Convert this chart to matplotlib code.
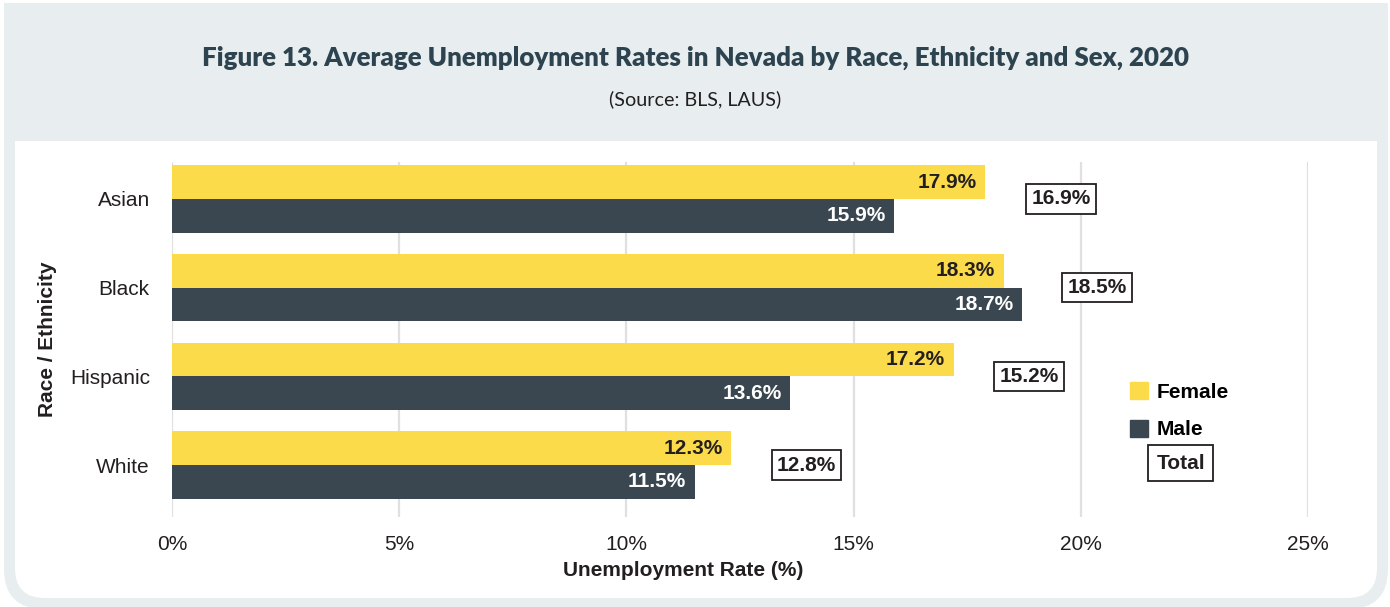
import matplotlib.pyplot as plt
import numpy as np
from matplotlib.patches import Patch, FancyBboxPatch, Rectangle
from matplotlib.transforms import IdentityTransform

groups = ['Asian', 'Black', 'Hispanic', 'White']
female = [17.9, 18.3, 17.2, 12.3]
male = [15.9, 18.7, 13.6, 11.5]
total = [16.9, 18.5, 15.2, 12.8]
xticks = [0, 5, 10, 15, 20, 25]

yellow = '#fcdb4a'
dark = '#3a4750'
txt = '#231f20'
W, H = 1390, 607

plt.rcParams['font.family'] = ['Liberation Sans', 'DejaVu Sans']

fig = plt.figure(figsize=(W / 100, H / 100), dpi=100)
fig.patch.set_facecolor('white')

# background: light frame, white panel with rounded bottom, light header band
def px(x0, y0, x1, y1):
    # image pixel box (top-left origin) -> display coords
    return x0, H - y1, x1 - x0, y1 - y0

x, y, w, h = px(4, 3, 1388, 609)
fig.add_artist(FancyBboxPatch((x, y), w, h, boxstyle='round,pad=0,rounding_size=40',
                              transform=IdentityTransform(), fc='#e8eef0', ec='none', zorder=-3))
x, y, w, h = px(15, 100, 1377, 598)
fig.add_artist(FancyBboxPatch((x, y), w, h, boxstyle='round,pad=0,rounding_size=30',
                              transform=IdentityTransform(), fc='white', ec='none', zorder=-2))
x, y, w, h = px(4, 3, 1388, 141)
fig.add_artist(Rectangle((x, y), w, h, transform=IdentityTransform(),
                         fc='#e8eef0', ec='none', zorder=-1))

fig.text(0.5, 1 - 58 / H, 'Figure 13. Average Unemployment Rates in Nevada by Race, Ethnicity and Sex, 2020',
         ha='center', va='center', fontsize=18.6, fontweight='heavy', color='#2d4450', family='Lato')
fig.text(0.5, 1 - 99 / H, '(Source: BLS, LAUS)', ha='center', va='center',
         fontsize=14.2, color=txt, family='Lato')

ax = fig.add_axes([172 / W, 1 - 517 / H, 1136 / W, 355 / H])
ax.set_facecolor('none')

pos = np.arange(len(groups))
bh = 0.38
ax.barh(pos - bh / 2, female, height=bh, color=yellow, zorder=2)
ax.barh(pos + bh / 2, male, height=bh, color=dark, zorder=2)

for i in range(len(groups)):
    ax.annotate(f'{female[i]}%', (female[i], pos[i] - bh / 2), xytext=(-6, 0),
                textcoords='offset points', ha='right', va='center',
                fontsize=15, fontweight='bold', color=txt, zorder=3)
    ax.annotate(f'{male[i]}%', (male[i], pos[i] + bh / 2), xytext=(-6, 0),
                textcoords='offset points', ha='right', va='center',
                fontsize=15, fontweight='bold', color='white', zorder=3)
    ax.annotate(f'{total[i]}%', (max(female[i], male[i]) + 0.95, pos[i]), xytext=(2, 0),
                textcoords='offset points', ha='left', va='center',
                fontsize=15, fontweight='bold', color=txt, zorder=3,
                bbox=dict(boxstyle='square,pad=0.25', fc='white', ec=txt, lw=1.3))

ax.set_xlim(0, 25)
ax.set_ylim(3 + 52 / 88.7, -37 / 88.7)
ax.set_xticks(xticks)
ax.set_xticklabels([f'{t}%' for t in xticks])
ax.set_yticks(pos)
ax.set_yticklabels(groups)
ax.tick_params(length=0, labelsize=15, colors=txt)
ax.tick_params(axis='x', pad=13)
ax.tick_params(axis='y', pad=16)
ax.grid(axis='x', color='#e0e0e0', lw=1.6, zorder=0)
ax.set_axisbelow(True)
for s in ax.spines.values():
    s.set_visible(False)

ax.set_xlabel('Unemployment Rate (%)', fontsize=15, fontweight='bold', color=txt)
ax.xaxis.set_label_coords(0.45, -0.125)
ax.set_ylabel('Race / Ethnicity', fontsize=15, fontweight='bold', color=txt)
ax.yaxis.set_label_coords(-0.101, 0.5)

handles = [Patch(color=yellow, label='Female'), Patch(color=dark, label='Male')]
ax.legend(handles=handles, loc='upper left', bbox_to_anchor=(0.843, 0.38), frameon=False,
          prop={'size': 15, 'weight': 'bold'}, handlelength=0.9, handleheight=0.9,
          handletextpad=0.4, labelspacing=0.85, borderpad=0, borderaxespad=0)
ax.text(0.888, 0.152, 'Total', transform=ax.transAxes, ha='center', va='center',
        fontsize=15, fontweight='bold', color=txt,
        bbox=dict(boxstyle='square,pad=0.4', fc='white', ec=txt, lw=1.3))

fig.savefig('out.png', dpi=100)
